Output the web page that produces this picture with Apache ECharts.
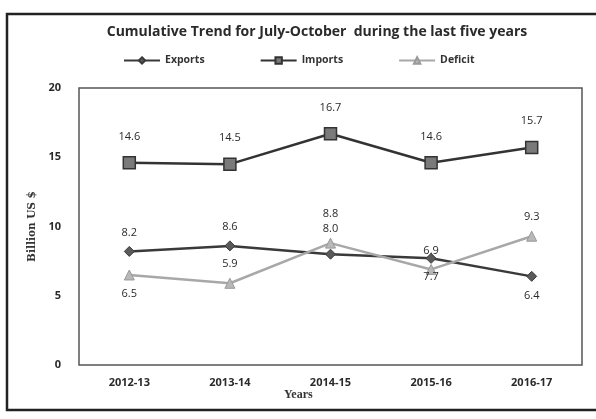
<!DOCTYPE html>
<html><head><meta charset="utf-8">
<script src="https://cdn.jsdelivr.net/npm/echarts@6/dist/echarts.min.js"></script>
<style>html,body{margin:0;padding:0;background:#fff}#c{width:596px;height:419px}</style>
</head><body><div id="c"></div>
<script>
const years = ['2012-13','2013-14','2014-15','2015-16','2016-17'];
const exportsVals = [8.2, 8.6, 8.0, 7.7, 6.4];
const importsVals = [14.6, 14.5, 16.7, 14.6, 15.7];
const deficitVals = [6.5, 5.9, 8.8, 6.9, 9.3];
const yTicks = [0, 5, 10, 15, 20];

const chart = echarts.init(document.getElementById('c'));
const font = '"Open Sans", "Liberation Sans", sans-serif';
const lbl = (pos) => ({show:true, position:pos, fontFamily:font, fontSize:11, color:'#2a2a2a', distance:8, formatter: p => p.value.toFixed(1)});
chart.setOption({
  animation:false,
  title:{text:'Cumulative Trend for July-October  during the last five years', left:312, textAlign:'center', top:20,
    textStyle:{fontFamily:font, fontSize:14, fontWeight:'bold', color:'#2a2a2a'}},
  legend:{top:50, left:118, itemGap:55, itemWidth:36, itemHeight:8,
    textStyle:{fontFamily:font, fontSize:10.5, fontWeight:'bold', color:'#333'},
    data:['Exports','Imports','Deficit']},
  grid:{left:79, right:14, top:88, bottom:54, show:true, borderColor:'#555', borderWidth:1.5, backgroundColor:'transparent'},
  xAxis:{type:'category', data:years, axisLine:{show:false}, axisTick:{show:false},
    axisLabel:{fontFamily:font, fontSize:11, fontWeight:'bold', color:'#2a2a2a', margin:12}},
  yAxis:{type:'value', min:yTicks[0], max:yTicks[yTicks.length-1], interval:5, splitLine:{show:false},
    axisLine:{show:false}, axisTick:{show:false},
    name:'Billion US $', nameLocation:'middle', nameGap:40, nameRotate:90,
    nameTextStyle:{fontFamily:'"DejaVu Serif", "Liberation Serif", serif', fontSize:10.5, fontWeight:'bold', color:'#333'},
    axisLabel:{fontFamily:font, fontSize:11, fontWeight:'bold', color:'#2a2a2a', margin:18}},
  graphic:[
    {type:'rect', shape:{x:7, y:14, width:592, height:396}, style:{fill:'none', stroke:'#222', lineWidth:2.5}},
    {type:'text', left:284, top:389, style:{text:'Years', font:'bold 12px "Liberation Serif", serif', fill:'#333'}}
  ],
  series:[
    {name:'Exports', type:'line', symbol:'diamond', symbolSize:10,
     lineStyle:{color:'#3a3a3a', width:2.5}, itemStyle:{color:'#5a5a5a', borderColor:'#3a3a3a', borderWidth:1},
     label:lbl('top'),
     labelLayout:{hideOverlap:false},
     data: exportsVals.map((v,i)=>({value:v, label: i===3 ? {position:'bottom'} : (i===4 ? {position:'bottom', offset:[6,-4]} : (i===2? {position:'top', distance:14}:{}))}))},
    {name:'Imports', type:'line', data:importsVals, symbol:'rect', symbolSize:12,
     lineStyle:{color:'#333', width:2.5}, itemStyle:{color:'#7a7a7a', borderColor:'#333', borderWidth:1.5},
     label:Object.assign(lbl('top'), {distance:14})},
    {name:'Deficit', type:'line', symbol:'triangle', symbolSize:10,
     lineStyle:{color:'#a8a8a8', width:2.5}, itemStyle:{color:'#b8b8b8', borderColor:'#999', borderWidth:1},
     label:lbl('top'),
     data: deficitVals.map((v,i)=>({value:v, label: i===0 ? {position:'bottom'} : (i===2 ? {distance:18} : {})}))}
  ]
});
</script></body></html>
